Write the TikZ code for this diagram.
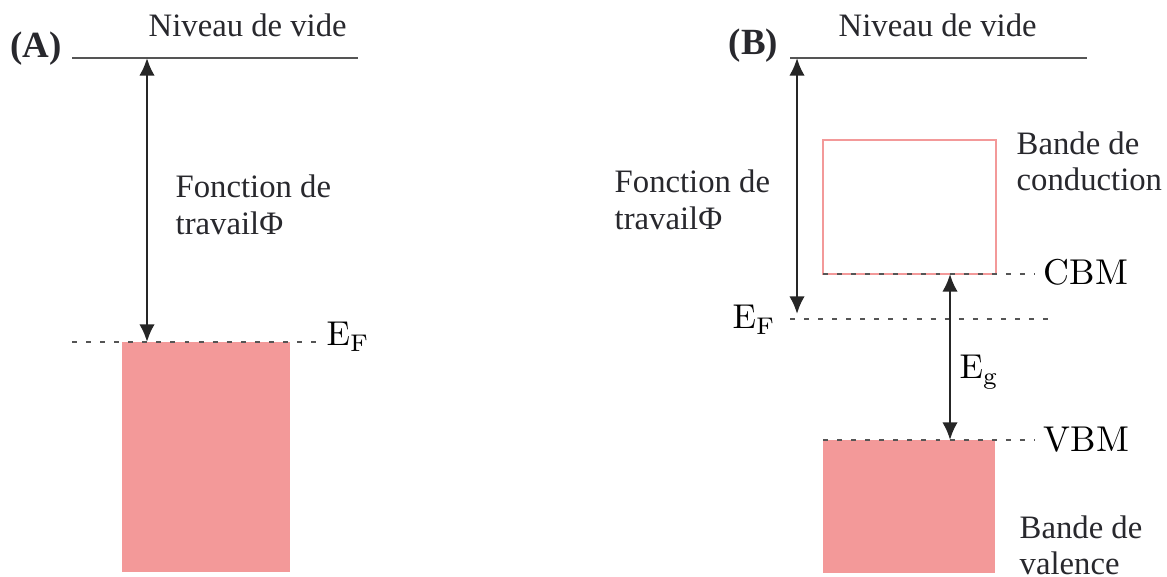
\documentclass[tikz,border=0pt]{standalone}
\usepackage{fontspec}
\newfontfamily\timesfont{Liberation Serif}
\usetikzlibrary{arrows.meta,positioning}
\definecolor{BandPink}{RGB}{243,153,153}
\definecolor{LevelGray}{RGB}{85,85,85}
\definecolor{TextGray}{RGB}{40,40,45}

\begin{document}
\begin{tikzpicture}[x=0.01cm,y=-0.01cm,>={Latex[length=5pt,width=4.4pt]},
    vacline/.style={line width=0.7pt,LevelGray},
    dotline/.style={line width=0.7pt,LevelGray,dash pattern=on 1.4pt off 2.6pt},
    gaparrow/.style={<->,line width=0.7pt,black!85},
    txt/.style={font=\timesfont\fontsize{9.3}{10.6}\selectfont,TextGray,inner sep=0pt,align=left},
    bandtxt/.style={txt,font=\timesfont\fontsize{9.3}{10.4}\selectfont},
    lvl/.style={font=\fontsize{9.8}{12}\selectfont,inner sep=0pt},
    tag/.style={font=\timesfont\bfseries\fontsize{10.5}{12}\selectfont,TextGray,inner sep=0pt}]
  \useasboundingbox (0,0) rectangle (1167,577);
  % (A) metal
  \fill[BandPink] (122,342) rectangle (290,572);
  \draw[vacline] (72,58) -- (358,58);
  \draw[dotline] (72,342) -- (316,342);
  \coordinate (vacA) at (147,58);
  \coordinate (efA) at (147,342);
  \draw[gaparrow] (vacA) -- (efA);
  \node[tag,anchor=base west] (tagA) at (10,58) {(A)};
  \node[txt,anchor=base west] (vacuumA) at (148,37) {Niveau de vide};
  \node[txt,anchor=north west] (phiA) at (175,174) {Fonction de\\travailΦ};
  \node[lvl,anchor=base west] (efAlbl) at (326,346) {E$_{\mathrm{F}}$};
  % (B) semiconductor
  \draw[BandPink,line width=0.7pt] (823,140) rectangle (996,274);
  \fill[BandPink] (823,440) rectangle (995,573);
  \draw[vacline] (790,58) -- (1087,58);
  \draw[dotline] (823,274) -- (1035,274);
  \draw[dotline] (790,319) -- (1050,319);
  \draw[dotline] (823,440) -- (1035,440);
  \coordinate (vacB) at (797,58);
  \coordinate (efB) at (797,314);
  \draw[gaparrow] (vacB) -- (efB);
  \coordinate (cbm) at (950,274);
  \coordinate (vbm) at (950,440);
  \draw[gaparrow] (cbm) -- (vbm);
  \node[tag,anchor=base west] (tagB) at (728,55) {(B)};
  \node[txt,anchor=base west] (vacuumB) at (838,37) {Niveau de vide};
  \node[txt,anchor=north west] (phiB) at (614,169) {Fonction de\\travailΦ};
  \node[bandtxt,anchor=north west] (cbtxt) at (1016,131) {Bande de\\conduction};
  \node[bandtxt,anchor=north west] (vbtxt) at (1019,515) {Bande de\\valence};
  \node[lvl,anchor=base west] (efBlbl) at (732,329) {E$_{\mathrm{F}}$};
  \node[lvl,anchor=base west] (eglbl) at (959,379) {E$_{\mathrm{g}}$};
  \node[lvl,anchor=base west,font=\fontsize{10.2}{12}\selectfont] (cbmlbl) at (1043,285) {CBM};
  \node[lvl,anchor=base west,font=\fontsize{10.2}{12}\selectfont] (vbmlbl) at (1043,452) {VBM};
\end{tikzpicture}
\end{document}
